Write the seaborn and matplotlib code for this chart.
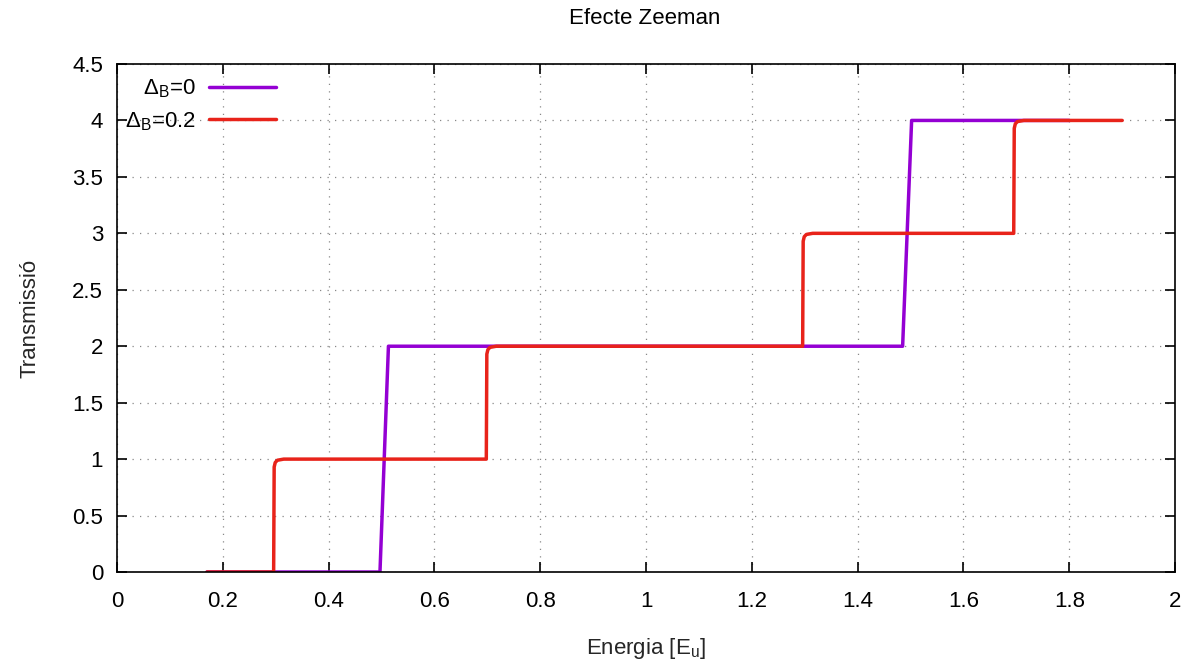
import matplotlib
matplotlib.use("Agg")
import matplotlib.pyplot as plt
import seaborn as sns
import pandas as pd
from matplotlib.ticker import FuncFormatter, MultipleLocator

# Data
x_b0 = [0.17, 0.497, 0.513, 1.485, 1.502, 1.80]
y_b0 = [0.0, 0.0, 2.0, 2.0, 4.0, 4.0]

x_b02 = [0.17, 0.296, 0.297, 0.299, 0.303, 0.315,
         0.698, 0.699, 0.701, 0.705, 0.717,
         1.296, 1.297, 1.299, 1.303, 1.315,
         1.695, 1.696, 1.698, 1.702, 1.714, 1.90]
y_b02 = [0.0, 0.0, 0.93, 0.97, 0.99, 1.0,
         1.0, 1.93, 1.97, 1.99, 2.0,
         2.0, 2.93, 2.97, 2.99, 3.0,
         3.0, 3.93, 3.97, 3.99, 4.0, 4.0]

labels = [r"$\Delta_\mathrm{B}$=0", r"$\Delta_\mathrm{B}$=0.2"]
colors = ["#9400d3", "#e8231a"]

sns.set_theme(style="white")
plt.rcParams["font.family"] = ["Liberation Sans", "DejaVu Sans"]
plt.rcParams["mathtext.fontset"] = "custom"
plt.rcParams["mathtext.rm"] = "Liberation Sans"
plt.rcParams["mathtext.it"] = "Liberation Sans:italic"
plt.rcParams["text.color"] = "black"

FS = 16

fig = plt.figure(figsize=(11.92, 6.68), dpi=100)
ax = fig.add_axes([0.0982, 0.1437, 0.8876, 0.7605])

df0 = pd.DataFrame({"x": x_b0, "y": y_b0})
df1 = pd.DataFrame({"x": x_b02, "y": y_b02})
sns.lineplot(data=df0, x="x", y="y", ax=ax, color=colors[0], lw=2.5,
             label=labels[0], estimator=None, sort=False)
sns.lineplot(data=df1, x="x", y="y", ax=ax, color=colors[1], lw=2.5,
             label=labels[1], estimator=None, sort=False)

ax.set_xlim(0, 2)
ax.set_ylim(0, 4.5)
ax.xaxis.set_major_locator(MultipleLocator(0.2))
ax.yaxis.set_major_locator(MultipleLocator(0.5))
fmt = FuncFormatter(lambda v, p: "%g" % round(v, 6))
ax.xaxis.set_major_formatter(fmt)
ax.yaxis.set_major_formatter(fmt)

ax.grid(True, color="#888888", linestyle=(0, (1, 5)), linewidth=0.9)
for s in ax.spines.values():
    s.set_visible(True)
    s.set_color("black")
    s.set_linewidth(1.2)
ax.tick_params(direction="in", length=7, width=1.2, top=True, right=True,
               bottom=True, left=True, labelsize=FS, colors="black")
ax.tick_params(axis="x", pad=14)
ax.tick_params(axis="y", pad=10)

fig.text(645 / 1192, 1 - 18 / 668, "Efecte Zeeman", fontsize=FS,
         ha="center", va="center")
ax.set_xlabel(r"Energia [E$_\mathrm{u}$]", fontsize=FS)
ax.xaxis.set_label_coords(0.5, -(648 - 572) / 508)
ax.xaxis.label.set_va("center")
ax.set_ylabel("Transmissió", fontsize=FS)
ax.yaxis.set_label_coords(-(117 - 30) / 1056, 0.5)
ax.yaxis.label.set_va("center")
ax.yaxis.label.set_ha("center")

leg = ax.legend(loc="upper left", markerfirst=False, frameon=False,
                fontsize=FS, handlelength=3.0, borderaxespad=0.2,
                labelspacing=0.45, handletextpad=0.6,
                bbox_to_anchor=(-0.005, 1.0))

fig.savefig("out.png", dpi=100)
